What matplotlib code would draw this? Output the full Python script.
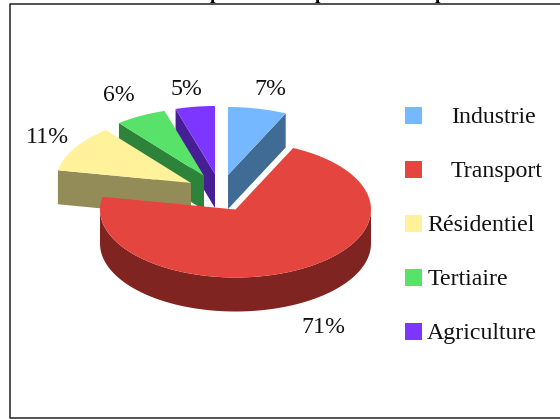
import numpy as np
import matplotlib
matplotlib.use("Agg")
import matplotlib.pyplot as plt
from matplotlib.patches import Polygon, Rectangle

plt.rcParams["font.family"] = ["Liberation Serif", "DejaVu Serif"]

categories = ["Industrie", "Transport", "Résidentiel", "Tertiaire", "Agriculture"]
shares = [7.0, 71.0, 11.2, 6.1, 4.7]
top_colors = ["#75b8ff", "#e5453f", "#fff29b", "#58e26a", "#7c36ff"]
side_colors = ["#3f6b94", "#7f2420", "#948c58", "#2e833b", "#471f94"]

# pixel layout of the exploded pie
centres = [(228, 175), (235.5, 209.5), (191, 183), (204, 176), (215, 174)]
rx, ry, depth = 135.5, 68, 34
label_pos = [(270, 95), (323, 333), (47, 143), (119, 101), (187, 95)]
legend_x = [451, 451, 427, 428, 427]
legend_y = [115.5, 169.5, 223.5, 277.5, 331.5]


def rim(cx, cy, a0, a1):
    # angles in degrees, clockwise from 12 o'clock
    t = np.radians(np.linspace(a0, a1, 120))
    return np.column_stack([cx + rx * np.sin(t), cy - ry * np.cos(t)])


fig = plt.figure(figsize=(5.6, 4.19), dpi=100)
ax = fig.add_axes([0, 0, 1, 1])
ax.set_xlim(0, 560)
ax.set_ylim(419, 0)
ax.axis("off")

# frame runs off the right side of the picture
ax.plot([560, 9.5, 9.5, 560], [4.5, 4.5, 418, 418], color="#222222", lw=1.1, clip_on=False)

# clipped title, only the descenders reach the picture
for x in [215, 320, 440]:
    ax.text(x, -1, "p", fontsize=14, fontweight="bold", ha="center", va="baseline")

edges = np.cumsum([0] + shares) * 3.6
# back slices first, the big red one last
for i in [4, 3, 2, 0, 1]:
    cx, cy = centres[i]
    arc = rim(cx, cy, edges[i], edges[i + 1])
    if i == 1:
        front = rim(cx, cy, 90, 270)
        wall = np.vstack([front, front[::-1] + [0, depth]])
        ax.add_patch(Polygon(wall, fc=side_colors[i], ec="none"))
    else:
        e = arc[-1] if i == 0 else arc[0]
        face = [(cx, cy), tuple(e), (e[0], e[1] + depth), (cx, cy + depth)]
        ax.add_patch(Polygon(face, fc=side_colors[i], ec="none"))
    ax.add_patch(Polygon(np.vstack([[cx, cy], arc]), fc=top_colors[i], ec="none"))

for i, name in enumerate(categories):
    ax.text(*label_pos[i], f"{shares[i]:.0f}%", fontsize=17.2, ha="center", va="baseline", color="#111111")
    ax.add_patch(Rectangle((405, legend_y[i] - 8.5), 17, 17, fc=top_colors[i], ec="none"))
    ax.text(legend_x[i], legend_y[i] + 7.5, name, fontsize=17.2, ha="left", va="baseline", color="#111111")

fig.savefig("out.png", dpi=100)
